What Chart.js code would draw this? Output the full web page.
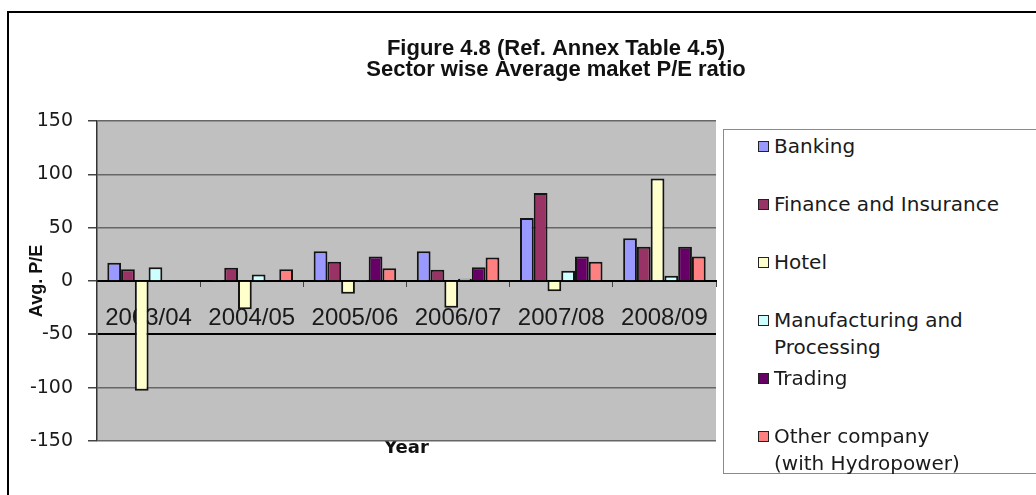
<!DOCTYPE html>
<html>
<head>
<meta charset="utf-8">
<title>Sector wise Average market P/E ratio</title>
<script src="https://cdn.jsdelivr.net/npm/chart.js@4/dist/chart.umd.min.js"></script>
<style>
  html, body { margin: 0; padding: 0; background: #fff; overflow: hidden; }
  #wrap { position: relative; width: 1036px; height: 495px; overflow: hidden; }
  #frame {
    position: absolute; left: 7px; top: 11px; width: 1100px; height: 600px;
    border-top: 2px solid #000; border-left: 2px solid #000;
  }
  #peChart { position: absolute; left: 0; top: 0; }
  #legenda {
    position: absolute; left: 723px; top: 129px; width: 400px; height: 343px;
    border: 1px solid #8a8a8a; background: #fff;
    font-family: "DejaVu Sans", sans-serif; font-size: 20px; color: #1a1a1a;
  }
  .item { position: absolute; left: 34px; display: flex; align-items: flex-start; line-height: 27px; }
  .item .box { width: 9px; height: 9px; border: 1.5px solid #222; margin-top: 8px; margin-right: 5px; flex: none; }
  .item .txt { white-space: pre-line; }
</style>
</head>
<body>
<div id="wrap">
  <div id="frame"></div>
  <canvas id="peChart" width="1112" height="495"></canvas>
  <div id="legenda"></div>
</div>
<script>
// Average market P/E ratio by sector, fiscal years 2003/04 - 2008/09
const anos = ['2003/04', '2004/05', '2005/06', '2006/07', '2007/08', '2008/09'];
const banking = [17, 1, 28, 28, 59, 40];
const financeInsurance = [11, 12.5, 18, 10.5, 82.5, 32];
const hotel = [-103, -26.5, -12, -25, -9.5, 96];
const manufacturing = [13, 6, 1, 2, 9.5, 5];
const trading = [1, 1, 23, 13, 23, 32];
const otherCompany = [0.5, 11, 12, 22, 18, 23];
const yTicks = [-150, -100, -50, 0, 50, 100, 150];

const series = [
    { label: 'Banking', data: banking, color: '#9999ff' },
    { label: 'Finance and Insurance', data: financeInsurance, color: '#993366' },
    { label: 'Hotel', data: hotel, color: '#ffffcc' },
    { label: 'Manufacturing and\nProcessing', data: manufacturing, color: '#ccffff' },
    { label: 'Trading', data: trading, color: '#660066' },
    { label: 'Other company\n(with Hydropower)', data: otherCompany, color: '#ff8080' }
];

// grey plot area behind the grid
const fundoPlot = {
    id: 'fundoPlot',
    beforeDraw(chart) {
        const { ctx, chartArea: a } = chart;
        ctx.save();
        ctx.fillStyle = '#c0c0c0';
        ctx.fillRect(a.left, a.top, a.right - a.left, a.bottom - a.top);
        ctx.restore();
    }
};

let peChart;

function criarGrafico() {
    const ctx = document.getElementById('peChart').getContext('2d');
    if (peChart) peChart.destroy();

    peChart = new Chart(ctx, {
        type: 'bar',
        data: {
            labels: anos,
            datasets: series.map(s => ({
                label: s.label,
                data: s.data,
                backgroundColor: s.color,
                borderColor: '#141414',
                borderWidth: 2,
                xAxisID: 'x',
                yAxisID: 'y',
                categoryPercentage: 0.8,
                barPercentage: 1
            }))
        },
        options: {
            responsive: false,
            animation: false,
            layout: { padding: 0 },
            plugins: {
                legend: { display: false },
                tooltip: { enabled: false },
                title: {
                    display: true,
                    text: ['Figure 4.8 (Ref. Annex Table 4.5)', 'Sector wise Average maket P/E ratio'],
                    color: '#111',
                    font: { family: '"Liberation Sans", Arial, sans-serif', size: 22, weight: 'bold', lineHeight: '21px' },
                    padding: { top: 38, bottom: 41 }
                }
            },
            scales: {
                x: {
                    type: 'category',
                    position: { y: 0 },
                    grid: { drawOnChartArea: false, drawTicks: true, tickLength: 5, tickColor: '#444' },
                    border: { display: true, color: '#000', width: 2 },
                    ticks: {
                        color: '#1a1a1a',
                        padding: 18,
                        autoSkip: false,
                        maxRotation: 0,
                        font: { family: '"Liberation Sans", Arial, sans-serif', size: 24 }
                    }
                },
                xTitulo: {
                    type: 'category',
                    position: 'bottom',
                    grid: { display: false },
                    border: { display: false },
                    ticks: { display: false },
                    title: {
                        display: true,
                        text: 'Year',
                        color: '#111',
                        font: { family: '"DejaVu Sans", sans-serif', size: 18, weight: 'bold' },
                        padding: { top: 0, bottom: 36 }
                    },
                    afterFit: s => { s.height = 54; }
                },
                y: {
                    type: 'linear',
                    position: 'left',
                    min: -150,
                    max: 150,
                    afterBuildTicks: s => { s.ticks = yTicks.map(v => ({ value: v })); },
                    grid: {
                        color: c => (c.tick && c.tick.value === -50 ? '#000' : '#666'),
                        lineWidth: c => (c.tick && c.tick.value === -50 ? 2 : 1.5),
                        tickLength: 9,
                        tickColor: '#444'
                    },
                    border: { display: true, color: '#333', width: 1.5 },
                    ticks: {
                        color: '#1a1a1a',
                        padding: 15,
                        font: { family: '"DejaVu Sans", sans-serif', size: 19 }
                    },
                    title: {
                        display: true,
                        text: 'Avg. P/E',
                        color: '#111',
                        font: { family: '"Liberation Sans", Arial, sans-serif', size: 18, weight: 'bold' },
                        padding: { top: 26, bottom: 0 }
                    },
                    afterFit: s => { s.width = 97; }
                },
                // keeps the room on the right where the legend box sits
                yEspaco: {
                    type: 'linear',
                    position: 'right',
                    grid: { display: false },
                    border: { display: false },
                    ticks: { display: false },
                    afterFit: s => { s.width = 396; }
                }
            }
        },
        plugins: [fundoPlot]
    });

    montarLegenda(peChart);
}

function montarLegenda(chart) {
    const box = document.getElementById('legenda');
    box.innerHTML = '';
    chart.data.datasets.forEach((ds, i) => {
        const item = document.createElement('div');
        item.className = 'item';
        item.style.top = (3 + i * 58) + 'px';
        const sw = document.createElement('span');
        sw.className = 'box';
        sw.style.background = ds.backgroundColor;
        const txt = document.createElement('span');
        txt.className = 'txt';
        txt.textContent = ds.label;
        item.appendChild(sw);
        item.appendChild(txt);
        box.appendChild(item);
    });
}

document.addEventListener('DOMContentLoaded', criarGrafico);
</script>
</body>
</html>
